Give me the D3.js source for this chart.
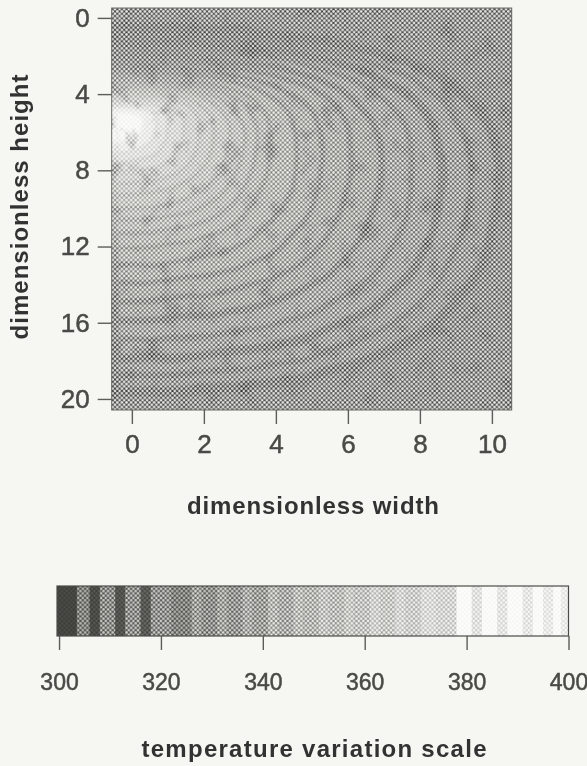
<!DOCTYPE html>
<html>
<head>
    <title>Temperature field</title>
    <meta charset="UTF-8">
    <style>
        html, body { margin: 0; padding: 0; background-color: #f6f6f3; }
        svg { display: block; }
        .tick line { stroke: #5c5c58; stroke-width: 1.4px; }
        .tick text { fill: #4a4a46; stroke: #4a4a46; stroke-width: 0.5px; }
        .plotaxis .tick text { font-family: "Liberation Sans Narrow", "Liberation Sans", sans-serif; font-size: 26px; }
        .baraxis .tick text { font-family: "Liberation Sans", Arial, sans-serif; font-size: 23px; }
        .title { font-family: "Liberation Sans", Arial, sans-serif; font-weight: bold; font-size: 24px; fill: #333; }
    </style>
    <script src="https://d3js.org/d3.v7.min.js"></script>
</head>
<body>
    <div id="chart"></div>
    <script>
        var xTicks = [0, 2, 4, 6, 8, 10],
            yTicks = [0, 4, 8, 12, 16, 20],
            scaleTicks = [300, 320, 340, 360, 380, 400];

        // rings, outermost first (dimensionless units)
        var ringCentre = [-0.45, 5.3];
        var ringRight  = [10.2, 9.4, 8.6, 7.8, 6.9, 6.1, 5.3, 4.6, 3.9, 3.5, 3.1, 2.7, 2.25, 1.9, 1.5, 1.05, 0.7, 0.3];
        var ringTop    = [0.5, 0.9, 1.25, 1.6, 1.95, 2.25, 2.55, 2.8, 3.05, 3.25, 3.45, 3.6, 3.8, 4.0, 4.2, 4.4, 4.6, 4.9];
        var ringBottom = [19.7, 18.8, 17.9, 16.9, 15.9, 14.9, 13.9, 13, 12.1, 11.3, 10.6, 10, 9.3, 8.7, 8.1, 7.6, 7.1, 6.5];
        var ringWaist  = [8.2, 8, 7.8, 7.5, 7.3, 7, 6.8, 6.6, 6.4, 6.2, 6.1, 6, 5.9, 5.8, 5.7, 5.6, 5.5, 5.4];
        var ringTemp   = [322, 325, 327, 329, 331, 333, 336, 339, 342, 345, 348, 352, 356, 360, 366, 372, 380, 392];
        var ringLine   = [300, 306, 304, 312, 310, 316, 318, 323, 328, 332, 336, 340, 345, 350, 356, 362, 370, 384];
        var ringWeight = [10, 6, 9, 6, 7, 6, 5, 5, 4.5, 4.5, 4.5, 4, 4, 4, 4, 4, 4, 4];
        var outerTemp  = 314;

        // colour bar bands, value at the start of each band and its temperature
        var bandEdges = [299.6, 303.5, 306, 308, 311, 313, 316, 318, 322, 326, 328, 331, 333, 336, 338, 341, 343, 346, 348, 351, 353, 356, 358, 361, 363, 366, 368, 371, 374, 378, 381, 383, 386, 388, 391, 393, 395, 397, 398.5];
        var bandTemp  = [300, 314, 302, 316, 304, 318, 306, 320, 314, 326, 318, 328, 322, 332, 326, 338, 332, 342, 338, 348, 342, 352, 348, 358, 352, 362, 356, 366, 362, 394, 372, 394, 374, 394, 376, 394, 378, 394, 380];

        var svg = d3.select("#chart").append("svg")
            .attr("width", 587)
            .attr("height", 766);

        var defs = svg.append("defs");

        var x = d3.scaleLinear().domain([-0.56, 10.55]).range([111.7, 511.7]);
        var y = d3.scaleLinear().domain([-0.52, 20.58]).range([8, 410]);
        var xScale = d3.scaleLinear().domain([299.6, 400]).range([57, 568.5]);

        var tone = d3.scaleLinear()
            .domain([300, 320, 340, 360, 380, 400])
            .range(["#3c3c38", "#54544f", "#85857f", "#b0b0ab", "#dcdcd8", "#ffffff"]);
        var screenStrength = d3.scaleLinear().domain([300, 306, 316, 340]).range([0.1, 0.25, 0.8, 1]).clamp(true);

        // halftone screen laid over both the map and the bar
        var tile = 4.6;
        var screen = defs.append("pattern")
            .attr("id", "screen")
            .attr("patternUnits", "userSpaceOnUse")
            .attr("width", tile)
            .attr("height", tile);
        [[0, 0], [tile, 0], [0, tile], [tile, tile], [tile / 2, tile / 2]].forEach(function(p) {
            screen.append("circle")
                .attr("cx", p[0])
                .attr("cy", p[1])
                .attr("r", 1.35)
                .attr("fill", "#fff")
                .attr("fill-opacity", 0.85);
        });

        var plotW = x.range()[1] - x.range()[0],
            plotH = y.range()[1] - y.range()[0];

        defs.append("clipPath").attr("id", "plot")
            .append("rect")
            .attr("x", x.range()[0])
            .attr("y", y.range()[0])
            .attr("width", plotW)
            .attr("height", plotH);

        var soft = defs.append("filter").attr("id", "soft")
            .attr("x", "-5%").attr("y", "-5%").attr("width", "110%").attr("height", "110%");
        soft.append("feGaussianBlur").attr("stdDeviation", 0.4);

        // wobble and mottle for the printed rings
        var smudge = defs.append("filter").attr("id", "smudge")
            .attr("filterUnits", "userSpaceOnUse")
            .attr("x", 80).attr("y", 0).attr("width", 460).attr("height", 440)
            .attr("color-interpolation-filters", "sRGB");
        smudge.append("feTurbulence")
            .attr("type", "fractalNoise").attr("baseFrequency", 0.025)
            .attr("numOctaves", 2).attr("seed", 4).attr("result", "warp");
        smudge.append("feDisplacementMap")
            .attr("in", "SourceGraphic").attr("in2", "warp").attr("scale", 7)
            .attr("xChannelSelector", "R").attr("yChannelSelector", "G").attr("result", "rings");
        smudge.append("feGaussianBlur")
            .attr("in", "rings").attr("stdDeviation", 1).attr("result", "blurred");
        smudge.append("feTurbulence")
            .attr("type", "fractalNoise").attr("baseFrequency", 0.05)
            .attr("numOctaves", 3).attr("seed", 9).attr("result", "grain");
        smudge.append("feColorMatrix")
            .attr("in", "grain").attr("type", "matrix")
            .attr("values", "1.3 0 0 0 0.42  1.3 0 0 0 0.42  1.3 0 0 0 0.42  0 0 0 0 1")
            .attr("result", "mottle");
        smudge.append("feComposite")
            .attr("in", "blurred").attr("in2", "mottle")
            .attr("operator", "arithmetic").attr("k1", 1);

        var page = svg.append("g").attr("filter", "url(#soft)");

        // heat map
        var plot = page.append("g").attr("clip-path", "url(#plot)");
        var rings = plot.append("g").attr("filter", "url(#smudge)");

        rings.append("rect")
            .attr("x", x.range()[0] - 20)
            .attr("y", y.range()[0] - 20)
            .attr("width", plotW + 40)
            .attr("height", plotH + 40)
            .attr("fill", tone(outerTemp));

        function ringPath(r, t, b, w) {
            var k = 0.7;
            var cx = x(ringCentre[0]), rx = x(r) - cx;
            var top = y(t), bot = y(b), mid = y(w);
            function side(s) {
                return "M" + cx + "," + top +
                    "C" + (cx + s * k * rx) + "," + top + " " + (cx + s * rx) + "," + (mid - k * (mid - top)) + " " + (cx + s * rx) + "," + mid +
                    "C" + (cx + s * rx) + "," + (mid + k * (bot - mid)) + " " + (cx + s * k * rx) + "," + bot + " " + cx + "," + bot;
            }
            return side(1) + side(-1) + "Z";
        }

        rings.selectAll(".ring")
            .data(ringRight)
            .enter().append("path")
            .attr("class", "ring")
            .attr("d", function(d, i) { return ringPath(d, ringTop[i], ringBottom[i], ringWaist[i]); })
            .attr("fill", function(d, i) { return tone(ringTemp[i]); })
            .attr("stroke", function(d, i) { return tone(ringLine[i]); })
            .attr("stroke-width", function(d, i) { return ringWeight[i]; });

        plot.append("rect")
            .attr("x", x.range()[0])
            .attr("y", y.range()[0])
            .attr("width", plotW)
            .attr("height", plotH)
            .attr("fill", "url(#screen)");

        page.append("rect")
            .attr("x", x.range()[0])
            .attr("y", y.range()[0])
            .attr("width", plotW)
            .attr("height", plotH)
            .attr("fill", "none")
            .attr("stroke", "#6a6a66")
            .attr("stroke-width", 1);

        // axes of the heat map
        var xAxis = page.append("g")
            .attr("class", "plotaxis")
            .attr("transform", "translate(0,410)")
            .call(d3.axisBottom(x).tickValues(xTicks).tickSize(14).tickPadding(11));
        xAxis.select(".domain").remove();

        var yAxis = page.append("g")
            .attr("class", "plotaxis")
            .attr("transform", "translate(111.7,0)")
            .call(d3.axisLeft(y).tickValues(yTicks).tickSize(14).tickPadding(8));
        yAxis.select(".domain").remove();

        page.append("text").attr("class", "title")
            .attr("transform", "translate(28,207) rotate(-90)")
            .attr("text-anchor", "middle")
            .attr("textLength", 265)
            .attr("lengthAdjust", "spacing")
            .text("dimensionless height");

        page.append("text").attr("class", "title")
            .attr("x", 313)
            .attr("y", 514)
            .attr("text-anchor", "middle")
            .attr("textLength", 252)
            .attr("lengthAdjust", "spacing")
            .text("dimensionless width");

        // colour bar
        function bandWidth(d, i) {
            var next = i + 1 < bandEdges.length ? bandEdges[i + 1] : 400;
            return xScale(next) - xScale(d);
        }

        var bar = page.append("g");
        bar.selectAll(".band")
            .data(bandEdges)
            .enter().append("rect")
            .attr("class", "band")
            .attr("x", function(d) { return xScale(d); })
            .attr("y", 586)
            .attr("width", function(d, i) { return bandWidth(d, i) + 0.5; })
            .attr("height", 50)
            .attr("fill", function(d, i) { return tone(bandTemp[i]); });

        bar.selectAll(".dots")
            .data(bandEdges)
            .enter().append("rect")
            .attr("class", "dots")
            .attr("x", function(d) { return xScale(d); })
            .attr("y", 586)
            .attr("width", bandWidth)
            .attr("height", 50)
            .attr("fill", "url(#screen)")
            .attr("opacity", function(d, i) { return screenStrength(bandTemp[i]); });

        page.append("rect")
            .attr("x", 57)
            .attr("y", 586)
            .attr("width", 511.5)
            .attr("height", 50)
            .attr("fill", "none")
            .attr("stroke", "#4c4c48")
            .attr("stroke-width", 1.2);

        var barAxis = page.append("g")
            .attr("class", "baraxis")
            .attr("transform", "translate(0,636)")
            .call(d3.axisBottom(xScale).tickValues(scaleTicks).tickSize(14).tickPadding(24));
        barAxis.select(".domain").remove();

        page.append("text").attr("class", "title")
            .attr("x", 314)
            .attr("y", 757)
            .attr("text-anchor", "middle")
            .attr("textLength", 345)
            .attr("lengthAdjust", "spacing")
            .text("temperature variation scale");
    </script>
</body>
</html>
